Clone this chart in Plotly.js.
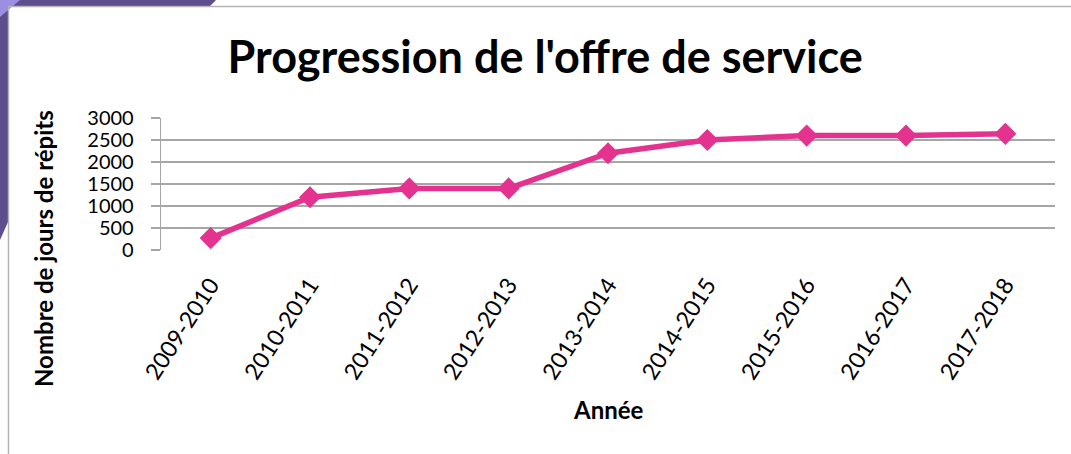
<!DOCTYPE html>
<html>
<head>
<meta charset="utf-8">
<script src="https://cdn.plot.ly/plotly-3.0.1.min.js"></script>
<style>html,body{margin:0;padding:0;background:#fff;}#chart{width:1071px;height:454px;}</style>
</head>
<body>
<div id="chart"></div>
<script>
const categories = ["2009-2010","2010-2011","2011-2012","2012-2013","2013-2014","2014-2015","2015-2016","2016-2017","2017-2018"];
const values = [270, 1200, 1400, 1400, 2200, 2500, 2600, 2600, 2640];
const yTicks = [0, 500, 1000, 1500, 2000, 2500, 3000];

const W = 1071, H = 454;
const L = 161, R = 16, T = 118, B = 204;
const pw = W - L - R, ph = H - T - B;
const px = x => (x - L) / pw;
const py = y => (H - B - y) / ph;
function path(pts){ return 'M' + pts.map(p => px(p[0]) + ',' + py(p[1])).join(' L') + ' Z'; }

const FONT = 'Lato, "Open Sans", sans-serif';
const pink = '#E3338F';

const trace = {
  x: categories, y: values, type: 'scatter', mode: 'lines+markers',
  line: {color: pink, width: 5.5},
  marker: {symbol: 'diamond', size: 17, color: pink},
  cliponaxis: false, hoverinfo: 'none'
};

const layout = {
  width: W, height: H,
  margin: {l: L, r: R, t: T, b: B},
  paper_bgcolor: '#fff', plot_bgcolor: '#fff',
  font: {family: FONT, color: '#000'},
  showlegend: false,
  title: {text: "Progression de l'offre de service", font: {family: FONT, size: 45, color: '#000', weight: 'bold'}, x: 0.509, xanchor: 'center', y: 0.875, yanchor: 'middle'},
  xaxis: {
    type: 'category', range: [-0.5, 8.5], fixedrange: true,
    tickangle: -57, tickfont: {family: FONT, size: 23, color: '#000'},
    ticklabelstandoff: 16,
    showgrid: false, showline: false, ticks: '', zeroline: false
  },
  yaxis: {
    range: [0, 3000], tickvals: yTicks, ticktext: yTicks.map(String), fixedrange: true,
    tickfont: {family: FONT, size: 20, color: '#000'},
    showgrid: true, gridcolor: '#a6a6a6', gridwidth: 1.3,
    showline: true, linecolor: '#a6a6a6', linewidth: 1.3,
    ticks: 'outside', ticklen: 9, tickcolor: '#a6a6a6', tickwidth: 1.3,
    ticklabelstandoff: 13, zeroline: false
  },
  annotations: [
    {text: '<b>Nombre de jours de répits</b>', xref: 'paper', yref: 'paper', x: px(43), y: py(249), textangle: -90, showarrow: false, font: {family: FONT, size: 24, color: '#000'}, xanchor: 'center', yanchor: 'middle'},
    {text: '<b>Année</b>', xref: 'paper', yref: 'paper', x: px(608), y: py(409), showarrow: false, font: {family: FONT, size: 24, color: '#000'}, xanchor: 'center', yanchor: 'middle'}
  ],
  shapes: [
    {type: 'path', xref: 'paper', yref: 'paper', path: path([[0,0],[216,0],[210,6],[8,6],[8,222],[0,240]]), fillcolor: '#5e4e8e', line: {width: 0}, layer: 'below'},
    {type: 'path', xref: 'paper', yref: 'paper', path: path([[0,0],[20,0],[0,17]]), fillcolor: '#9c8ee0', line: {width: 0}, layer: 'below'},
    {type: 'line', xref: 'paper', yref: 'paper', x0: px(8.5), y0: py(6.5), x1: px(8.5), y1: py(454), line: {color: '#b4b4b4', width: 1.5}},
    {type: 'line', xref: 'paper', yref: 'paper', x0: px(8.5), y0: py(6.5), x1: px(1071), y1: py(6.5), line: {color: '#b4b4b4', width: 1.5}}
  ]
};

Plotly.newPlot('chart', [trace], layout, {displayModeBar: false, staticPlot: true});
</script>
</body>
</html>
